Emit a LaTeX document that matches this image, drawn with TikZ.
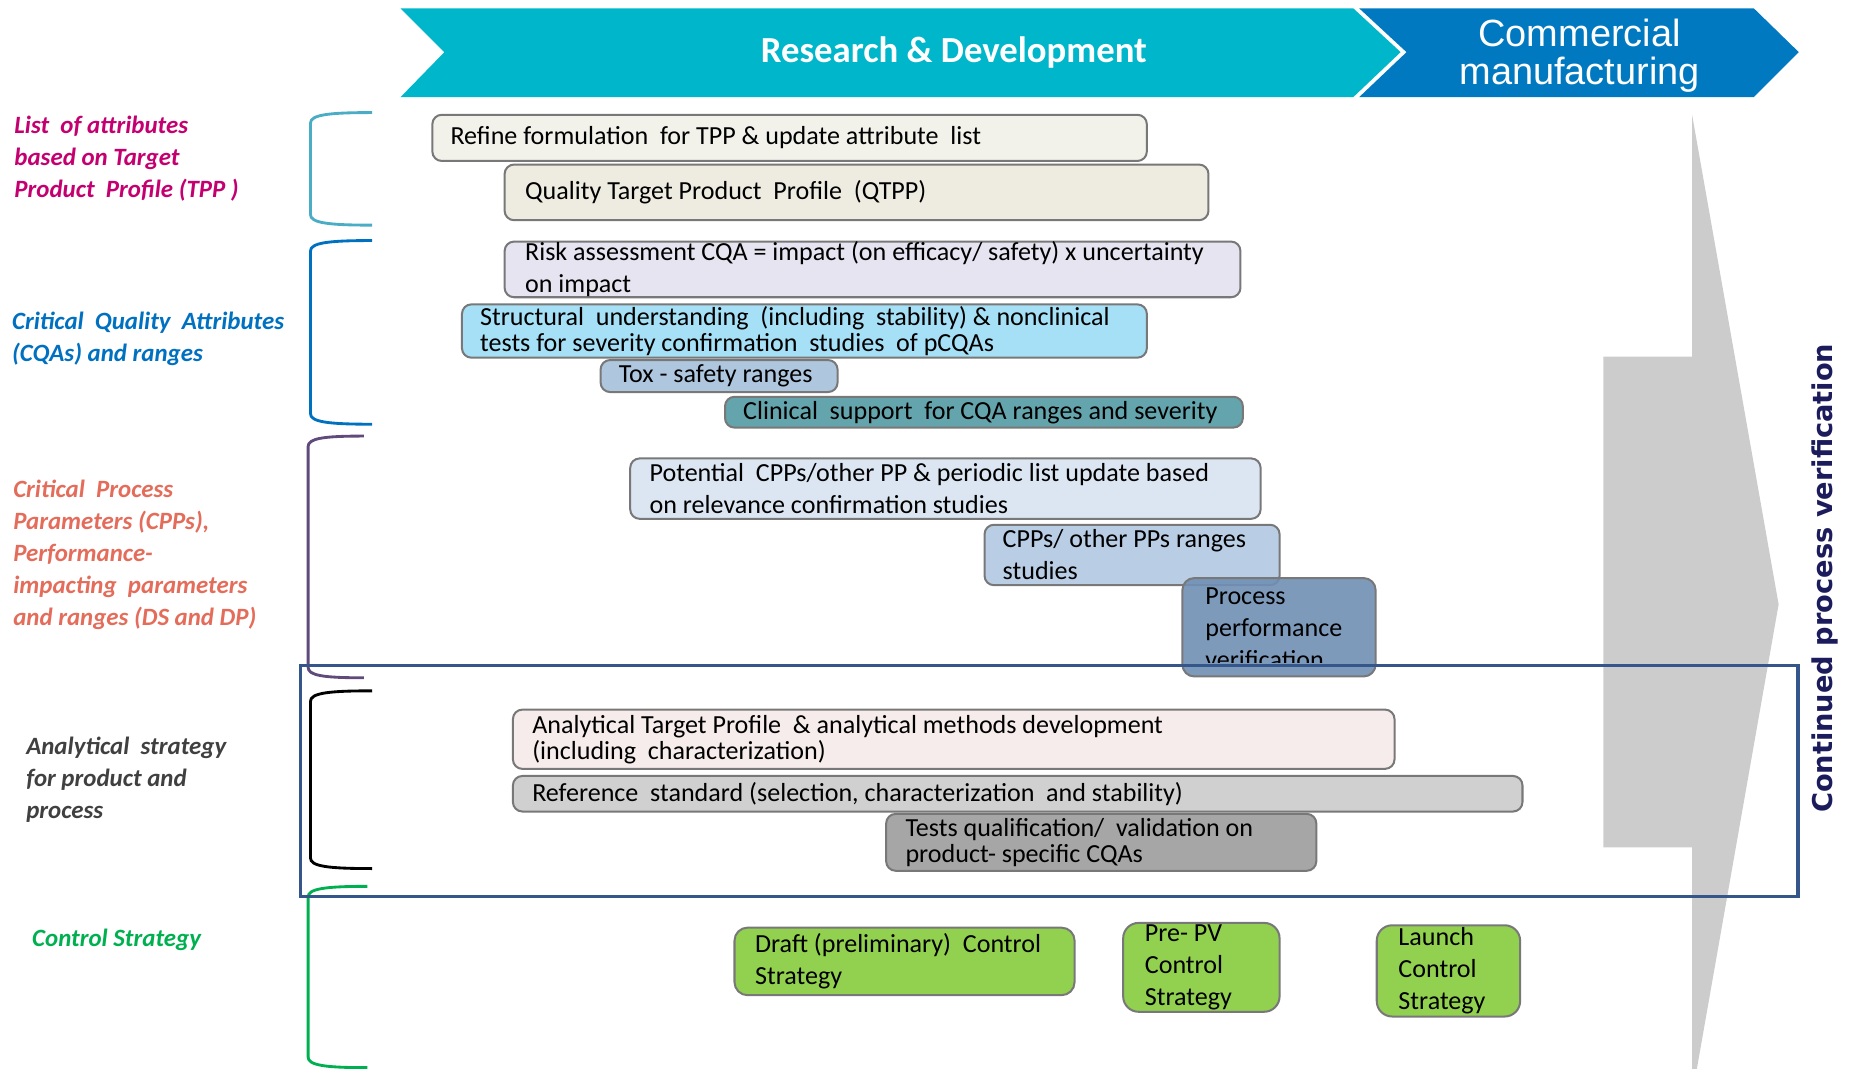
\documentclass[tikz,border=0pt]{standalone}
\usepackage{fontspec}
\setmainfont{Carlito}
\newfontfamily\bannersans{Liberation Sans}
\newfontfamily\verifsans{DejaVu Sans}
\definecolor{rdteal}{RGB}{0,182,202}
\definecolor{commblue}{RGB}{0,121,193}
\definecolor{tppcol}{RGB}{196,0,112}
\definecolor{tppbrk}{RGB}{75,172,198}
\definecolor{cqacol}{RGB}{0,112,192}
\definecolor{cppcol}{RGB}{228,108,90}
\definecolor{cppbrk}{RGB}{96,74,123}
\definecolor{anacol}{RGB}{64,64,64}
\definecolor{ctlcol}{RGB}{0,176,80}
\definecolor{cpvnavy}{RGB}{28,28,92}
\definecolor{framecol}{RGB}{52,86,138}
\definecolor{arrowgray}{RGB}{204,204,204}
\definecolor{boxline}{RGB}{120,120,120}
\definecolor{fRefine}{RGB}{242,242,235}
\definecolor{fQtpp}{RGB}{238,236,225}
\definecolor{fRisk}{RGB}{230,228,240}
\definecolor{fStruct}{RGB}{165,224,246}
\definecolor{fTox}{RGB}{174,199,223}
\definecolor{fClin}{RGB}{100,164,172}
\definecolor{fPot}{RGB}{220,230,242}
\definecolor{fRange}{RGB}{185,205,229}
\definecolor{fPpv}{RGB}{112,143,180}
\definecolor{fAtp}{RGB}{247,236,236}
\definecolor{fRef}{RGB}{208,208,208}
\definecolor{fTest}{RGB}{166,166,166}
\definecolor{fCtl}{RGB}{146,208,80}

% box with its text: name, x, y, width, height, fill (plus extra keys), text indent, line skip, text
\newcommand\stagebox[9]{%
  \node[stage, fill=#6, minimum width=#4pt, minimum height=#5pt] (#1) at (#2,#3) {};
  \node[stagetext, font=\fontsize{22}{#8}\selectfont] (#1-text) at ([xshift=#7pt]#1.west) {#9};
}

\begin{document}
\begin{tikzpicture}[x=1pt,y=-1pt,
  stage/.style={draw=boxline, line width=1.7pt, rounded corners=8pt, anchor=north west, inner sep=0pt},
  stagetext/.style={anchor=west, align=left, inner sep=0pt, text=black},
  lbl/.style={anchor=west, align=left, inner sep=0pt, font=\fontsize{21}{27}\selectfont\bfseries\itshape},
  brk/.style={line width=2.4pt}
]
\useasboundingbox (0,0) rectangle (1568,902);

% phase banners
\fill[commblue] (1147,7) -- (1480,7) -- (1518,44) -- (1480,82) -- (1147,82) -- (1187,44) -- cycle;
\fill[rdteal] (338,7) -- (1142,7) -- (1182,44) -- (1142,82) -- (338,82) -- (375,44) -- cycle;
\node[font=\fontsize{31}{31}\selectfont\bfseries, text=white] (rd) at (805,44) {Research \& Development};
\node[font=\bannersans\fontsize{32}{32}\selectfont, text=white, align=center] (comm) at (1333,47) {Commercial\\manufacturing};

% continued verification arrow
\fill[arrowgray] (1353,301) -- (1428,301) -- (1428,97) -- (1501,510) -- (1432,902) -- (1428,902) -- (1428,715) -- (1353,715) -- cycle;
\node[rotate=90, font=\verifsans\bfseries\fontsize{23}{27}\selectfont, text=cpvnavy] (cpv) at (1540,488) {Continued process verification};

% side brackets
\draw[brk, tppbrk] (314,95) .. controls (276,95) and (262,97) .. (262,104) -- (262,181) .. controls (262,188) and (276,190) .. (314,190);
\draw[brk, cqacol] (314,203) .. controls (276,203) and (262,205) .. (262,212) -- (262,349) .. controls (262,356) and (276,358) .. (314,358);
\draw[brk, cppbrk] (307,368) .. controls (272,368) and (260,370) .. (260,377) -- (260,563) .. controls (260,570) and (272,572) .. (307,572);
\draw[brk, black] (314,583) .. controls (276,583) and (262,585) .. (262,592) -- (262,724) .. controls (262,731) and (276,733) .. (314,733);
\draw[brk, ctlcol] (310,748) .. controls (274,748) and (260,750) .. (260,757) -- (260,892) .. controls (260,899) and (274,901) .. (310,901);

% side labels
\node[lbl, text=tppcol] (tpplbl) at (12,134) {List~ of attributes\\based on Target\\Product~ Profile (TPP )};
\node[lbl, text=cqacol] (cqalbl) at (10,286) {Critical~ Quality~ Attributes\\(CQAs) and ranges};
\node[lbl, text=cppcol] (cpplbl) at (11,468) {Critical~ Process\\Parameters (CPPs),\\Performance-\\impacting~ parameters\\and ranges (DS and DP)};
\node[lbl, text=anacol] (analbl) at (22,658) {Analytical~ strategy\\for product and\\process};
\node[lbl, text=ctlcol] (ctllbl) at (27,793) {Control Strategy};

% activity boxes
\stagebox{refine}{364}{96}{603}{39}{fRefine}{16}{27}{Refine formulation~ for TPP \& update attribute~ list}
\stagebox{qtpp}{425}{138}{594}{47}{fQtpp}{18}{27}{Quality Target Product~ Profile~ (QTPP)}
\stagebox{risk}{425}{203}{621}{47}{fRisk}{18}{27}{Risk assessment CQA = impact (on efficacy/ safety) x uncertainty\\on impact}
\stagebox{struct}{389}{256}{578}{45}{fStruct}{16}{22}{Structural~ understanding~ (including~ stability) \& nonclinical\\tests for severity confirmation~ studies~ of pCQAs}
\stagebox{tox}{506}{303}{200}{27}{fTox}{16}{27}{Tox - safety ranges}
\stagebox{clin}{611}{334}{437}{26}{fClin}{16}{27}{Clinical~ support~ for CQA ranges and severity}
\stagebox{pot}{531}{386}{532}{51}{fPot}{17}{27}{Potential~ CPPs/other PP \& periodic list update based\\on relevance confirmation studies}
\stagebox{ranges}{830}{442}{249}{51}{fRange}{16}{27}{CPPs/ other PPs ranges\\studies}

\node[stage, fill=fPpv, fill opacity=0.9, rounded corners=10pt, minimum width=163pt, minimum height=83pt] (ppv) at (997,487) {};
\begin{scope}
  \clip (990,480) rectangle (1170,559);
  \node[stagetext, font=\fontsize{22}{27}\selectfont] (ppv-text) at ([xshift=20pt,yshift=-1pt]ppv.west) {Process\\performance\\verification};
\end{scope}

\stagebox{atp}{432}{598}{744}{50}{fAtp}{17}{22}{Analytical Target Profile~ \& analytical methods development\\(including~ characterization)}
\stagebox{refstd}{432}{654}{852}{30}{fRef}{17}{27}{Reference~ standard (selection, characterization~ and stability)}
\stagebox{tests}{747}{686}{363}{48}{fTest}{17}{22}{Tests qualification/~ validation on\\product- specific CQAs}

\stagebox{draft}{619}{782}{287}{57}{fCtl, rounded corners=11pt}{18}{27}{Draft (preliminary)~ Control\\Strategy}
\stagebox{prepv}{947}{778}{132}{75}{fCtl, rounded corners=13pt}{19}{27}{Pre- PV\\Control\\Strategy}
\stagebox{launch}{1161}{780}{121}{77}{fCtl, rounded corners=13pt}{19}{27}{Launch\\Control\\Strategy}

% analytical strategy frame
\node[draw=framecol, line width=3.2pt, minimum width=1264pt, minimum height=195pt, anchor=north west, inner sep=0pt] (anaframe) at (252,560) {};
\end{tikzpicture}
\end{document}
